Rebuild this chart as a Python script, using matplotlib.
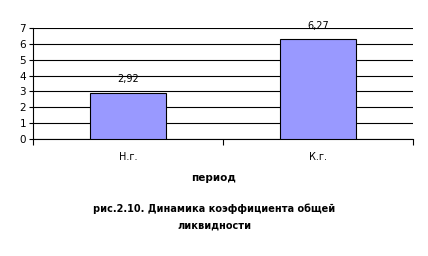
import matplotlib
matplotlib.use("Agg")
import matplotlib.pyplot as plt

# Data
periods = ["Н.г.", "К.г."]
values = [2.92, 6.27]
value_labels = ["2,92", "6,27"]
yticks = [0, 1, 2, 3, 4, 5, 6, 7]

plt.rcParams["font.family"] = ["DejaVu Sans"]

fig = plt.figure(figsize=(4.28, 2.56), dpi=100)
ax = fig.add_axes([0.077, 0.457, 0.888, 0.434])

x = list(range(len(periods)))
ax.bar(x, values, width=0.4, color="#9999FF", edgecolor="black", linewidth=0.8, zorder=3)
for xi, v, lab in zip(x, values, value_labels):
    ax.text(xi, v + 0.85, lab, ha="center", va="center", fontsize=7, clip_on=False)

ax.set_xlim(-0.5, 1.5)
ax.set_ylim(0, 7)
ax.set_yticks(yticks)
ax.tick_params(axis="y", labelsize=7.5, length=3, width=0.8, pad=2)
ax.yaxis.grid(True, color="black", linewidth=0.8, zorder=0)
ax.set_axisbelow(True)

# category boundary ticks like Excel
ax.set_xticks([-0.5, 0.5, 1.5])
ax.set_xticklabels([])
ax.tick_params(axis="x", length=4, width=0.8)
ax.set_xticks(x, minor=True)
ax.set_xticklabels(periods, minor=True, fontsize=7)
ax.tick_params(axis="x", which="minor", length=0, pad=9)

for side in ["top", "right"]:
    ax.spines[side].set_visible(False)
for side in ["left", "bottom"]:
    ax.spines[side].set_linewidth(0.8)

fig.text(0.5, 0.305, "период", ha="center", va="center", fontsize=7.5, fontweight="bold")
fig.text(0.5, 0.185, "рис.2.10. Динамика коэффициента общей", ha="center", va="center",
         fontsize=7, fontweight="bold")
fig.text(0.5, 0.118, "ликвидности", ha="center", va="center", fontsize=7, fontweight="bold")

fig.savefig("out.png", dpi=100)
